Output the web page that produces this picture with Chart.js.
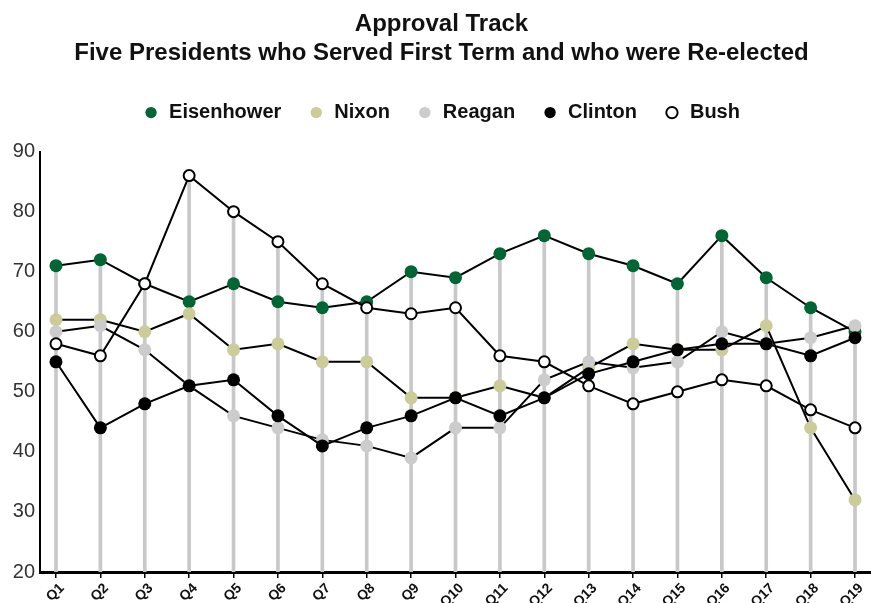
<!DOCTYPE html>
<html>
<head>
<meta charset="utf-8">
<script src="https://cdn.jsdelivr.net/npm/chart.js@4.4.1/dist/chart.umd.min.js"></script>
<style>
  html, body { margin: 0; padding: 0; background: #fff; }
  #wrap { width: 871px; height: 603px; }
</style>
</head>
<body>
<div id="wrap"><canvas id="approval" width="871" height="603"></canvas></div>
<script>
// Quarters of the first term
const quarters = ['Q1','Q2','Q3','Q4','Q5','Q6','Q7','Q8','Q9','Q10',
                  'Q11','Q12','Q13','Q14','Q15','Q16','Q17','Q18','Q19'];

// Approval ratings per president
const eisenhower = [71, 72, 68, 65, 68, 65, 64, 65, 70, 69, 73, 76, 73, 71, 68, 76, 69, 64, 60];
const nixon      = [62, 62, 60, 63, 57, 58, 55, 55, 49, 49, 51, 49, 54, 58, 57, 57, 61, 44, 32];
const reagan     = [60, 61, 57, 51, 46, 44, 42, 41, 39, 44, 44, 52, 55, 54, 55, 60, 58, 59, 61];
const clinton    = [55, 44, 48, 51, 52, 46, 41, 44, 46, 49, 46, 49, 53, 55, 57, 58, 58, 56, 59];
const bush       = [58, 56, 68, 86, 80, 75, 68, 64, 63, 64, 56, 55, 51, 48, 50, 52, 51, 47, 44];

const yTicks = [20, 30, 40, 50, 60, 70, 80, 90];

// helper: turn a series into {x, y} points on the quarter axis
function toPoints(values) {
    return values.map((v, i) => ({ x: i + 1, y: v }));
}

// grey drop line from the axis up to the highest rating of each quarter
let dropLines = quarters.map((q, i) => ({
    x: i + 1,
    y: [yTicks[0], Math.max(eisenhower[i], nixon[i], reagan[i], clinton[i], bush[i])]
}));

function series(label, values, fill, border, borderWidth, order) {
    return {
        label: label,
        data: toPoints(values),
        borderColor: '#000',
        borderWidth: 2,
        backgroundColor: fill,
        pointBackgroundColor: fill,
        pointBorderColor: border,
        pointBorderWidth: borderWidth,
        pointRadius: borderWidth ? 5.5 : 6.5,
        pointHoverRadius: 6,
        tension: 0,
        fill: false,
        order: order
    };
}

let datasets = [
    series('Eisenhower', eisenhower, '#006633', '#006633', 0, 5),
    series('Nixon', nixon, '#cccc99', '#cccc99', 0, 4),
    series('Reagan', reagan, '#cccccc', '#cccccc', 0, 3),
    series('Clinton', clinton, '#000000', '#000000', 0, 2),
    series('Bush', bush, '#ffffff', '#000000', 2, 1),
    {
        type: 'bar',
        label: 'drop',
        data: dropLines,
        backgroundColor: '#c8c8c8',
        barThickness: 3,
        order: 10
    }
];

// extra room under the legend
const legendGap = {
    id: 'legendGap',
    beforeInit(chart) {
        const fit = chart.legend.fit;
        chart.legend.fit = function () {
            fit.bind(chart.legend)();
            this.height += 19;
        };
    }
};

let ctx = document.getElementById('approval').getContext('2d');
let chart = new Chart(ctx, {
    type: 'line',
    data: { datasets: datasets },
    plugins: [legendGap],
    options: {
        responsive: false,
        animation: false,
        layout: { padding: { left: 12, right: 0, top: 0, bottom: 0 }, autoPadding: false },
        plugins: {
            tooltip: { enabled: false },
            title: {
                display: true,
                text: ['Approval Track', 'Five Presidents who Served First Term and who were Re-elected'],
                color: '#111',
                font: { family: 'Liberation Sans, Arial, sans-serif', size: 24, weight: 'bold', lineHeight: 1.2 },
                padding: { top: 10, bottom: 8 }
            },
            legend: {
                display: true,
                labels: {
                    usePointStyle: true,
                    pointStyle: 'circle',
                    boxWidth: 16,
                    boxHeight: 8,
                    padding: 27,
                    color: '#111',
                    font: { family: 'Liberation Sans, Arial, sans-serif', size: 20, weight: 'bold' },
                    filter: item => item.text !== 'drop',
                    sort: (a, b) => a.datasetIndex - b.datasetIndex,
                    generateLabels: chart => {
                        let items = Chart.defaults.plugins.legend.labels.generateLabels(chart);
                        items.forEach(item => {
                            let ds = chart.data.datasets[item.datasetIndex];
                            item.fillStyle = ds.pointBackgroundColor;
                            item.strokeStyle = ds.pointBorderColor;
                            item.lineWidth = ds.pointBorderWidth;
                        });
                        return items;
                    }
                }
            }
        },
        scales: {
            x: {
                type: 'linear',
                offset: false,
                min: 0.64,
                max: 19.36,
                afterBuildTicks: axis => {
                    axis.ticks = quarters.map((q, i) => ({ value: i + 1 }));
                },
                afterFit: axis => {
                    axis.height = 31;
                    axis.paddingLeft = 0;
                    axis.paddingRight = 0;
                },
                ticks: {
                    autoSkip: false,
                    minRotation: 45,
                    maxRotation: 45,
                    padding: 2,
                    labelOffset: 6,
                    color: '#111',
                    font: { family: 'Liberation Sans, Arial, sans-serif', size: 14, weight: 'bold' },
                    callback: value => quarters[value - 1]
                },
                grid: {
                    offset: false,
                    drawOnChartArea: false,
                    drawTicks: true,
                    tickLength: 6,
                    color: '#000',
                    lineWidth: 1.5
                },
                border: { display: true, color: '#000', width: 3 }
            },
            y: {
                min: 20,
                max: 90,
                afterBuildTicks: axis => {
                    axis.ticks = yTicks.map(v => ({ value: v }));
                },
                afterFit: axis => { axis.width = 28; },
                ticks: {
                    padding: 5,
                    color: '#333',
                    font: { family: 'Liberation Sans, Arial, sans-serif', size: 20 }
                },
                grid: { display: false, drawTicks: false },
                border: { display: true, color: '#000', width: 2 }
            }
        }
    }
});
</script>
</body>
</html>
